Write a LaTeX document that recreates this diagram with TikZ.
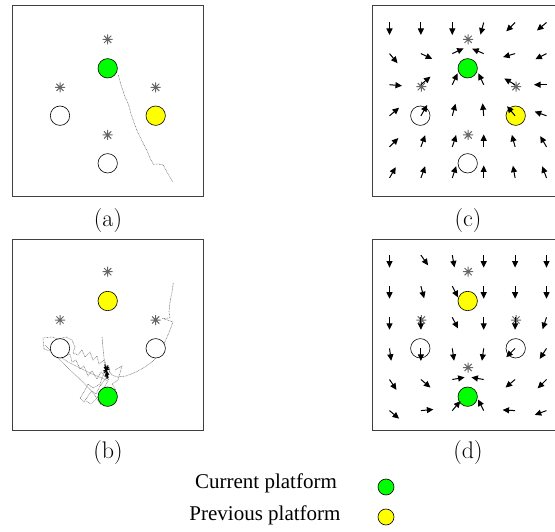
\documentclass[tikz,border=0pt]{standalone}
\usepackage{fontspec}
\newfontfamily\legfont{Liberation Serif}
\usetikzlibrary{arrows.meta}
\definecolor{pgreen}{RGB}{0,255,0}
\definecolor{pyellow}{RGB}{255,255,0}
\begin{document}
\begin{tikzpicture}[x=1pt,y=-1pt,
 frame/.style={draw=black!75, line width=0.8pt},
 plat/.style={draw=black, line width=0.6pt},
 qarrow/.style={line width=1pt, -{Triangle[length=6.5pt,width=6pt]}},
 traj/.style={draw=black!50, line width=0.6pt, dash pattern=on 0.8pt off 0.7pt},
 astline/.style={draw=black!60, line width=1pt},
 ast/.pic={\draw[astline] (-5,0)--(5,0) (0,-5)--(0,5) (-3.6,-3.6)--(3.6,3.6) (-3.6,3.6)--(3.6,-3.6);},
 lab/.style={font=\fontsize{24}{28}\selectfont, inner sep=0pt},
 leg/.style={font=\legfont\fontsize{21}{24}\selectfont, inner sep=0pt}
]
\useasboundingbox (0,0) rectangle (555,532);
\clip (0,0) rectangle (555,532);

% ---------- frames ----------
\draw[frame] (12.3,5.7) rectangle (203.3,196.7);
\draw[frame] (372.3,5.7) rectangle (563.3,196.7);
\draw[frame] (12.3,239) rectangle (203.3,430);
\draw[frame] (372.3,239) rectangle (563.3,430);

% ---------- panel (a) ----------
\draw[traj] (118.3,75) -- (121,85) -- (125,96.7) -- (129,106) -- (131,114) -- (136.7,130) -- (142,141) -- (146.7,150) -- (150,158) -- (153.3,164.3) -- (158,164) -- (163.3,165) -- (168,174) -- (172.7,181.7);
\draw[plat, fill=pgreen] (107.7,68.3) circle[radius=9.7];
\draw[plat, fill=white] (60,115.7) circle[radius=9.7];
\draw[plat, fill=pyellow] (155.7,115.7) circle[radius=9.7];
\draw[plat, fill=white] (107.7,163.3) circle[radius=9.7];
\pic at (107.7,39.3) {ast};
\pic at (60,87.3) {ast};
\pic at (155.7,87.3) {ast};
\pic at (107.7,135) {ast};

% ---------- panel (b) ----------
\draw[traj] (173.3,283) -- (172,292) -- (170,302) -- (169,312) -- (170,318) -- (163,318.5) -- (173,322) -- (170,330) -- (167,337) -- (163,346) -- (159,354) -- (153,361) -- (145,367) -- (136,372) -- (126,376) -- (117,377) -- (112,375);
\draw[traj] (112,375) -- (106,366) -- (109,380) -- (101,372) -- (97,379) -- (92,371) -- (88,376) -- (84,366) -- (80,369) -- (76,360) -- (72,362) -- (70,354) -- (64,356) -- (58,349) -- (50,351) -- (44,349) -- (43,338) -- (52,337) -- (58,339) -- (66,337) -- (72,340) -- (75,347) -- (73,353) -- (78,355) -- (82,350) -- (85,357) -- (90,352) -- (93,360) -- (97,356) -- (99,364) -- (104,360) -- (105,370) -- (100,384) -- (93,388) -- (88,384) -- (84,392) -- (80,398) -- (84,402) -- (88,396) -- (92,391) -- (96,394) -- (100,386) -- (106,378) -- (110,371);
\draw[traj] (45,345) -- (60,360) -- (72,372) -- (84,383) -- (94,394) -- (101,405);
\draw[traj] (55,353) -- (68,362) -- (80,368) -- (92,374) -- (102,378) -- (108,381) -- (104,388) -- (98,397) -- (91,404) -- (86,401);
\draw[traj] (102,337) -- (103,348) -- (104,358) -- (106,366);
\draw[traj] (115,370) -- (122,366) -- (118,380) -- (112,384) -- (116,390);
\draw[plat, fill=pyellow] (107.7,301) circle[radius=9.7];
\draw[plat, fill=white] (60,348.3) circle[radius=9.7];
\draw[plat, fill=white] (155.7,348.3) circle[radius=9.7];
\draw[plat, fill=pgreen] (107.7,396.7) circle[radius=9.7];
\pic at (107.7,271.7) {ast};
\pic at (60,320) {ast};
\pic at (155.7,320) {ast};
\draw[black, line width=0.8pt] (105,364) -- (107,379) (104,367) -- (109,375) (108,365) -- (105,377) (103,371) -- (110,369) (106,366) -- (108,378) (104,373) -- (109,367);

% ---------- panel (c) ----------
\draw[plat, fill=pgreen] (467.7,68.3) circle[radius=9.7];
\draw[plat, fill=white] (420.3,115.7) circle[radius=9.7];
\draw[plat, fill=pyellow] (515.7,115.7) circle[radius=9.7];
\draw[plat, fill=white] (467.7,163.3) circle[radius=9.7];
\pic at (468.2,39.3) {ast};
\pic at (421.3,86.7) {ast};
\pic at (516,86.7) {ast};
\pic at (468.2,135) {ast};
\foreach \row/\yy in {{-90,-90,-90,-105,-135,-140}/22.5,
                      {-50,-25,25,157,-164,-153}/53.6,
                      {-5,40,65,115,150,180}/84.7,
                      {40,60,75,95,130,160}/115.8,
                      {45,70,72,90,105,120}/146.9,
                      {60,70,72,90,100,110}/178}
  \foreach \a [count=\i from 0] in \row
    \draw[qarrow] (389.5+31.4*\i,\yy) -- ++({12.5*cos(\a)},{-12.5*sin(\a)});

% ---------- panel (d) ----------
\draw[plat, fill=pyellow] (467.7,301) circle[radius=9.7];
\draw[plat, fill=white] (420.3,348.3) circle[radius=9.7];
\draw[plat, fill=white] (515.7,348.3) circle[radius=9.7];
\draw[plat, fill=pgreen] (467.7,396.7) circle[radius=9.7];
\pic at (468.2,271.7) {ast};
\pic at (421.3,320) {ast};
\pic at (516,320) {ast};
\pic at (468.2,367.5) {ast};
\foreach \row/\yy in {{-90,-55,-80,-90,-90,-90}/255.1,
                      {-90,-75,-63,-90,-90,-90}/286.2,
                      {-90,-90,-63,-90,-90,-108}/317.3,
                      {-82,-90,-82,-98,-135,-123}/348.4,
                      {-56,-40,10,170,-140,-135}/379.5,
                      {-40,5,50,117,177,-160}/410.6}
  \foreach \a [count=\i from 0] in \row
    \draw[qarrow] (389.5+31.4*\i,\yy) -- ++({12.5*cos(\a)},{-12.5*sin(\a)});

% ---------- labels ----------
\node[lab] (la) at (108,220.5) {(a)};
\node[lab] (lc) at (468,220.5) {(c)};
\node[lab] (lb) at (108,453) {(b)};
\node[lab] (ld) at (468,453) {(d)};

% ---------- legend ----------
\node[leg] (cur) at (266,483) {Current platform};
\node[leg] (prev) at (265,515) {Previous platform};
\draw[plat, fill=pgreen] (386,487) circle[radius=8];
\draw[plat, fill=pyellow] (386,517) circle[radius=8];
\end{tikzpicture}
\end{document}
